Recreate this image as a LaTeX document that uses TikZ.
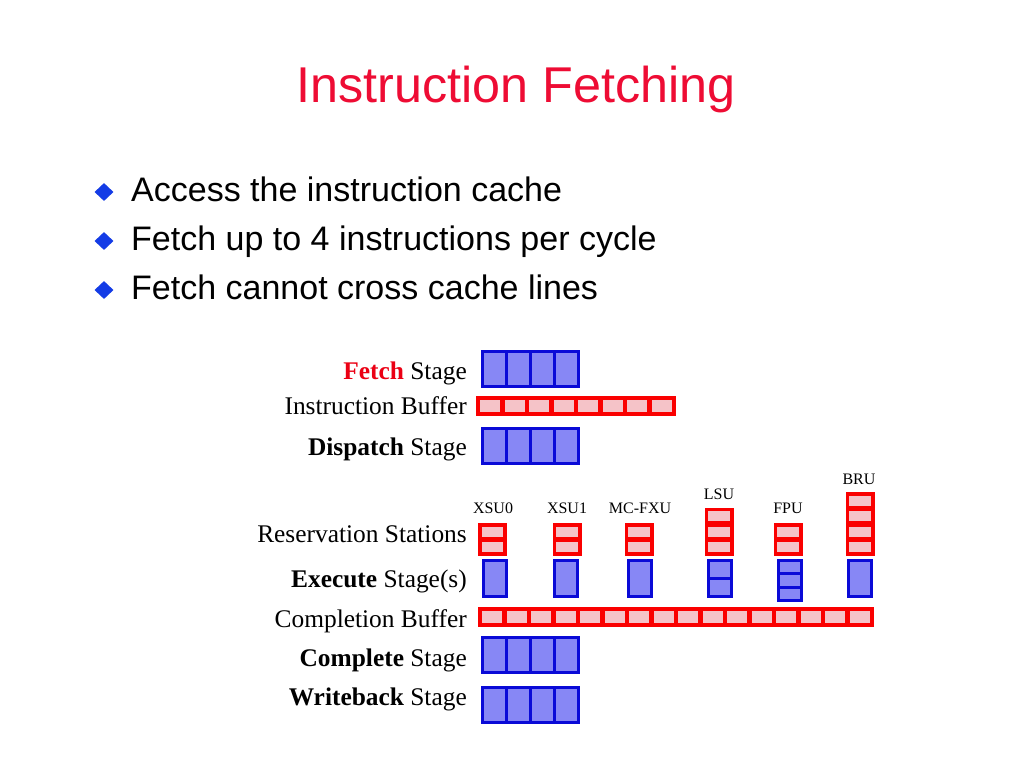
\documentclass[tikz,border=0pt]{standalone}
\usepackage{fontspec}
\setmainfont{Liberation Serif}
\newfontfamily\arialf{Liberation Sans}
\usetikzlibrary{shapes.geometric}
\definecolor{titlered}{RGB}{238,12,52}
\definecolor{fetchred}{RGB}{235,0,20}
\definecolor{bblue}{RGB}{10,10,215}
\definecolor{bfill}{RGB}{135,135,245}
\definecolor{rred}{RGB}{250,0,0}
\definecolor{rfill}{RGB}{245,195,200}
\definecolor{dblue}{RGB}{20,60,230}
\newcommand\stageblk[2]{%
  \foreach \i in {0,...,3} {\node[bcell,minimum width=24pt,minimum height=35pt] (#1\i) at ({482+24*\i},#2) {};}}
\newcommand\bufblk[4]{%
  \node[rframe,minimum width={3.5pt+24.5pt*#4},minimum height=20pt] (#1) at (#2,#3) {};
  \foreach \i in {1,...,#4} {\node[rcell,minimum width=20pt,minimum height=12pt] (#1c\i) at ({#2+4+24.5*(\i-1)},{#3+4}) {};}}
\newcommand\rsblk[3]{%
  \node[rframe,minimum width=29pt,minimum height={2pt+15.5pt*#3}] (#1) at ({#2-14.5},{556-(2+15.5*#3)}) {};
  \foreach \i in {1,...,#3} {\node[rcell,minimum width=21.5pt,minimum height=10pt] (#1c\i) at ({#2-14.5+3.75},{556-(2+15.5*#3)+3.75+15.5*(\i-1)}) {};}}
\newcommand\exblk[4]{%
  \foreach \i in {1,...,#3} {\node[bcell,minimum width=23pt,minimum height={(#4pt-3pt)/#3}] (#1c\i) at ({#2-11.5},{560.5+(#4-3)/#3*(\i-1)}) {};}}
\begin{document}
\begin{tikzpicture}[x=1pt,y=-1pt,
  bcell/.style={draw=bblue,fill=bfill,line width=3pt,inner sep=0pt,outer sep=0pt,anchor=north west},
  rframe/.style={fill=rred,inner sep=0pt,outer sep=0pt,anchor=north west},
  rcell/.style={fill=rfill,inner sep=0pt,outer sep=0pt,anchor=north west},
  lab/.style={anchor=base east,inner sep=0pt,font=\fontsize{25.4}{30}\selectfont},
  ulab/.style={anchor=base,inner sep=0pt,font=\fontsize{16}{19}\selectfont},
  bul/.style={anchor=base west,inner sep=0pt,font=\arialf\fontsize{34}{40}\selectfont},
  dia/.style={diamond,fill=dblue,inner sep=0pt,minimum width=19pt,minimum height=18pt}]
\useasboundingbox[fill=white] (0,0) rectangle (1024,768);
\node[anchor=base,inner sep=0pt,text=titlered,font=\arialf\fontsize{50.3}{60}\selectfont] (title) at (516,102) {Instruction Fetching};
\node[dia] (d1) at (104,192) {};
\node[dia] (d2) at (104,241) {};
\node[dia] (d3) at (104,290) {};
\node[bul] (b1) at (131,201) {Access the instruction cache};
\node[bul] (b2) at (131,250) {Fetch up to 4 instructions per cycle};
\node[bul] (b3) at (131,299) {Fetch cannot cross cache lines};
% left labels
\node[lab] (lfetch) at (467,379) {\textbf{\color{fetchred}Fetch} Stage};
\node[lab] (libuf) at (467,414) {Instruction Buffer};
\node[lab] (ldisp) at (467,455) {\textbf{Dispatch} Stage};
\node[lab] (lrs) at (467,542) {Reservation Stations};
\node[lab] (lexec) at (467,587) {\textbf{Execute} Stage(s)};
\node[lab] (lcbuf) at (467,627) {Completion Buffer};
\node[lab] (lcomp) at (467,666) {\textbf{Complete} Stage};
\node[lab] (lwb) at (467,705) {\textbf{Writeback} Stage};
% stages
\stageblk{fetch}{351}
\bufblk{ibuf}{476}{396}{8}
\stageblk{disp}{428}
\stageblk{comp}{637}
\stageblk{wb}{687}
\bufblk{cbuf}{478}{607}{16}
% units
\node[ulab] (uxsu0) at (493,513) {XSU0};
\node[ulab] (uxsu1) at (567,513) {XSU1};
\node[ulab] (umc) at (640,513) {MC-FXU};
\node[ulab] (ulsu) at (719,499) {LSU};
\node[ulab] (ufpu) at (788,513) {FPU};
\node[ulab] (ubru) at (859,484) {BRU};
\rsblk{rsxsu0}{492.5}{2}
\rsblk{rsxsu1}{567}{2}
\rsblk{rsmc}{639}{2}
\rsblk{rslsu}{719}{3}
\rsblk{rsfpu}{788}{2}
\rsblk{rsbru}{860}{4}
\exblk{exxsu0}{495}{1}{39}
\exblk{exxsu1}{566}{1}{39}
\exblk{exmc}{639.5}{1}{39}
\exblk{exlsu}{719.5}{2}{39}
\exblk{exfpu}{789.5}{3}{43}
\exblk{exbru}{859.5}{1}{39}
\end{tikzpicture}
\end{document}
